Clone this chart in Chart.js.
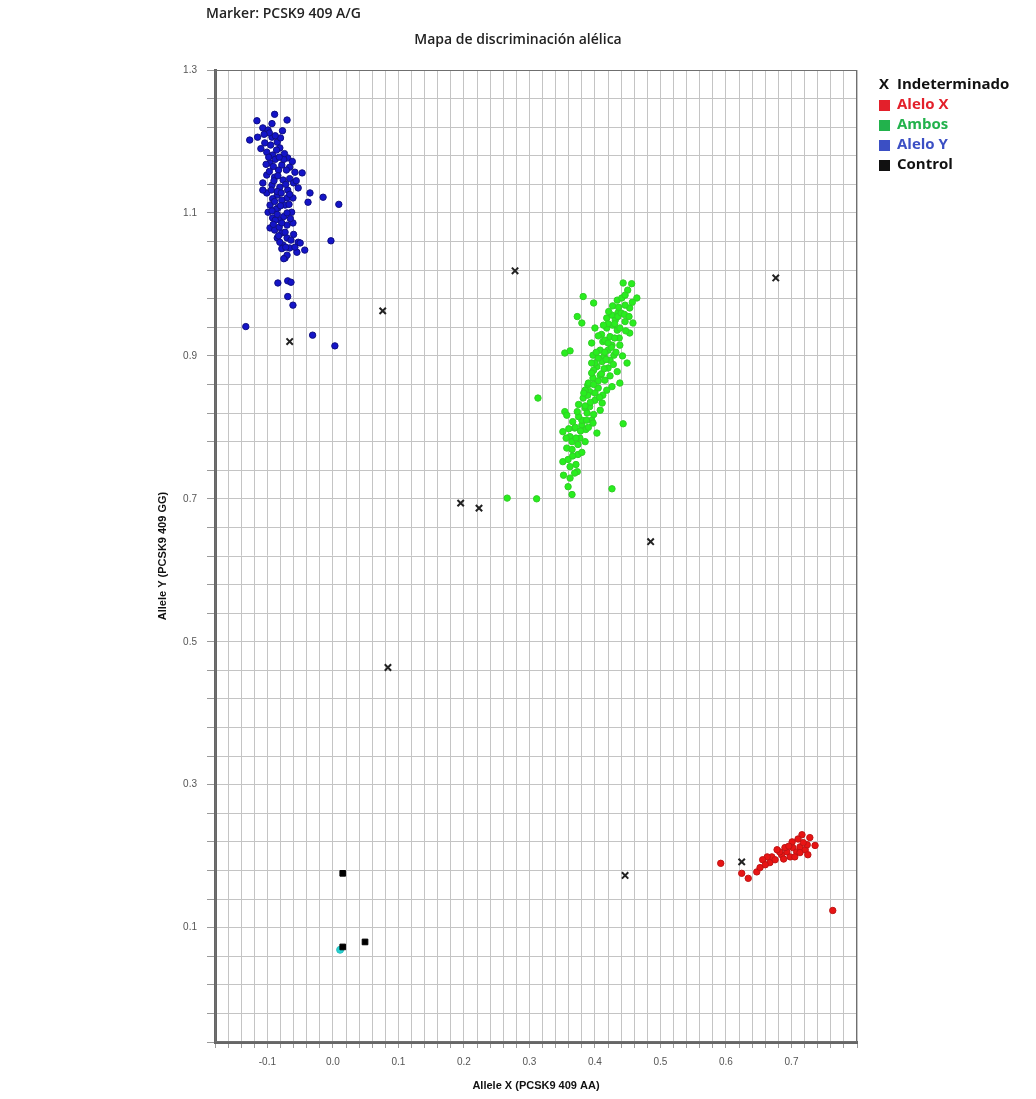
<!DOCTYPE html>
<html>
<head>
<meta charset="utf-8">
<title>Mapa de discriminación alélica</title>
<script src="https://cdn.jsdelivr.net/npm/chart.js@4.4.1/dist/chart.umd.min.js"></script>
<style>
    html, body { margin: 0; padding: 0; background: #fff; }
    #wrap { width: 1036px; height: 1099px; }
</style>
</head>
<body>
<div id="wrap"><canvas id="chart" width="1036" height="1099"></canvas></div>
<script>
// Axis ranges and labelled ticks
const xRange = [-0.18, 0.8];
const yRange = [-0.06, 1.3];
const xGridStep = 0.02;
const yGridStep = 0.04;
const xTickLabels = [-0.1, 0.0, 0.1, 0.2, 0.3, 0.4, 0.5, 0.6, 0.7];
const yTickLabels = [0.1, 0.3, 0.5, 0.7, 0.9, 1.1, 1.3];

// Legend texts
const legendLabels = ['Indeterminado', 'Alelo X', 'Ambos', 'Alelo Y', 'Control'];
const legendColors = ['#111111', '#e3202b', '#22b24c', '#3b4fc4', '#111111'];

// Points [Allele X, Allele Y]
const indeterminado = [
    [0.278, 1.019], [0.076, 0.963], [-0.066, 0.920], [0.676, 1.009], [0.195, 0.694],
    [0.223, 0.687], [0.485, 0.640], [0.084, 0.464], [0.446, 0.173], [0.624, 0.192]
];

const aleloX = [
    [0.592, 0.190], [0.624, 0.176], [0.634, 0.169], [0.647, 0.178], [0.652, 0.184],
    [0.667, 0.191], [0.670, 0.199], [0.675, 0.195], [0.685, 0.202], [0.693, 0.206],
    [0.698, 0.199], [0.702, 0.212], [0.708, 0.206], [0.713, 0.213], [0.716, 0.230],
    [0.713, 0.205], [0.721, 0.209], [0.724, 0.216], [0.725, 0.202], [0.736, 0.215],
    [0.705, 0.199], [0.690, 0.212], [0.682, 0.206], [0.663, 0.199], [0.656, 0.195],
    [0.678, 0.209], [0.701, 0.220], [0.728, 0.226], [0.718, 0.219], [0.763, 0.124],
    [0.660, 0.188], [0.688, 0.196], [0.710, 0.224], [0.696, 0.214]
];

const ambos = [
    [0.443, 1.002], [0.456, 1.001], [0.382, 0.983], [0.398, 0.974], [0.434, 0.978],
    [0.441, 0.981], [0.464, 0.981], [0.453, 0.967], [0.373, 0.955], [0.380, 0.946],
    [0.418, 0.953], [0.426, 0.957], [0.435, 0.960], [0.446, 0.948], [0.458, 0.946],
    [0.453, 0.932], [0.400, 0.939], [0.418, 0.939], [0.427, 0.943], [0.434, 0.936],
    [0.423, 0.927], [0.412, 0.920], [0.395, 0.918], [0.438, 0.915], [0.354, 0.904],
    [0.362, 0.907], [0.397, 0.901], [0.408, 0.908], [0.420, 0.908], [0.449, 0.890],
    [0.411, 0.892], [0.403, 0.885], [0.420, 0.883], [0.434, 0.878], [0.408, 0.873],
    [0.397, 0.869], [0.415, 0.866], [0.438, 0.862], [0.426, 0.857], [0.405, 0.855],
    [0.392, 0.850], [0.412, 0.845], [0.400, 0.838], [0.313, 0.841], [0.443, 0.805],
    [0.382, 0.841], [0.389, 0.845], [0.411, 0.834], [0.354, 0.822], [0.357, 0.817],
    [0.351, 0.794], [0.362, 0.787], [0.369, 0.799], [0.380, 0.803], [0.395, 0.810],
    [0.397, 0.806], [0.403, 0.792], [0.377, 0.785], [0.357, 0.771], [0.374, 0.762],
    [0.351, 0.752], [0.359, 0.755], [0.373, 0.738], [0.369, 0.736], [0.359, 0.717],
    [0.365, 0.706], [0.426, 0.714], [0.385, 0.827], [0.388, 0.820], [0.392, 0.829],
    [0.380, 0.810], [0.266, 0.701], [0.311, 0.700], [0.431, 0.950], [0.438, 0.939],
    [0.415, 0.922], [0.426, 0.915], [0.405, 0.897], [0.414, 0.900], [0.423, 0.894],
    [0.398, 0.880], [0.389, 0.859], [0.385, 0.852], [0.408, 0.824], [0.374, 0.776],
    [0.386, 0.797], [0.365, 0.769], [0.371, 0.748], [0.362, 0.729], [0.450, 0.992],
    [0.446, 0.971], [0.437, 0.925], [0.429, 0.901], [0.420, 0.945], [0.430, 0.925],
    [0.410, 0.930], [0.425, 0.912], [0.415, 0.905], [0.435, 0.955], [0.440, 0.960],
    [0.400, 0.890], [0.410, 0.875], [0.390, 0.862], [0.400, 0.848], [0.385, 0.830],
    [0.375, 0.815], [0.370, 0.800], [0.365, 0.780], [0.390, 0.800], [0.380, 0.765],
    [0.427, 0.970], [0.436, 0.968], [0.445, 0.958], [0.452, 0.955], [0.421, 0.962],
    [0.430, 0.945], [0.447, 0.935], [0.413, 0.943], [0.405, 0.928], [0.420, 0.918],
    [0.432, 0.905], [0.442, 0.900], [0.417, 0.895], [0.402, 0.905], [0.428, 0.888],
    [0.414, 0.882], [0.395, 0.890], [0.423, 0.872], [0.405, 0.865], [0.395, 0.876],
    [0.418, 0.852], [0.398, 0.860], [0.383, 0.848], [0.407, 0.842], [0.393, 0.835],
    [0.375, 0.832], [0.398, 0.818], [0.373, 0.822], [0.387, 0.810], [0.366, 0.808],
    [0.378, 0.795], [0.360, 0.798], [0.371, 0.785], [0.385, 0.780], [0.356, 0.785],
    [0.366, 0.760], [0.362, 0.745], [0.352, 0.733], [0.446, 0.985], [0.457, 0.975]
];

const aleloY = [
    [-0.089, 1.238], [-0.070, 1.230], [-0.116, 1.229], [-0.107, 1.219], [-0.099, 1.216],
    [-0.127, 1.202], [-0.115, 1.206], [-0.093, 1.206], [-0.085, 1.199], [-0.101, 1.185],
    [-0.092, 1.181], [-0.081, 1.191], [-0.069, 1.177], [-0.096, 1.170], [-0.078, 1.167],
    [-0.066, 1.164], [-0.047, 1.156], [-0.058, 1.157], [-0.101, 1.153], [-0.089, 1.150],
    [-0.076, 1.146], [-0.107, 1.142], [-0.093, 1.139], [-0.081, 1.136], [-0.069, 1.132],
    [-0.053, 1.135], [-0.035, 1.128], [-0.101, 1.128], [-0.085, 1.125], [-0.070, 1.121],
    [-0.061, 1.121], [-0.038, 1.115], [-0.096, 1.111], [-0.084, 1.107], [-0.073, 1.111],
    [-0.063, 1.101], [-0.099, 1.101], [-0.092, 1.093], [-0.081, 1.090], [-0.070, 1.083],
    [-0.061, 1.086], [-0.096, 1.079], [-0.078, 1.072], [-0.085, 1.065], [-0.070, 1.065],
    [-0.053, 1.059], [-0.076, 1.055], [-0.066, 1.051], [-0.055, 1.045], [-0.043, 1.048],
    [-0.081, 1.059], [-0.073, 1.037], [-0.089, 1.076], [-0.107, 1.132], [-0.088, 1.175],
    [-0.083, 1.160], [-0.090, 1.145], [-0.085, 1.130], [-0.078, 1.118], [-0.092, 1.120],
    [-0.087, 1.105], [-0.075, 1.095], [-0.082, 1.080], [-0.088, 1.090], [-0.072, 1.140],
    [-0.080, 1.205], [-0.095, 1.195], [-0.075, 1.175], [-0.066, 1.148], [-0.060, 1.070],
    [-0.078, 1.050], [-0.070, 1.041], [-0.015, 1.122], [0.009, 1.112], [-0.003, 1.061],
    [-0.050, 1.058], [-0.075, 1.036], [-0.084, 1.002], [-0.069, 1.005], [-0.064, 1.003],
    [-0.069, 0.983], [-0.061, 0.971], [-0.133, 0.941], [-0.031, 0.929], [0.003, 0.914],
    [-0.097, 1.212], [-0.088, 1.208], [-0.104, 1.198], [-0.086, 1.188], [-0.074, 1.183],
    [-0.098, 1.178], [-0.082, 1.178], [-0.091, 1.165], [-0.071, 1.160], [-0.097, 1.158],
    [-0.084, 1.152], [-0.060, 1.142], [-0.079, 1.128], [-0.094, 1.132], [-0.066, 1.126],
    [-0.089, 1.116], [-0.080, 1.110], [-0.067, 1.112], [-0.093, 1.103], [-0.070, 1.100],
    [-0.085, 1.098], [-0.078, 1.086], [-0.065, 1.092], [-0.091, 1.084], [-0.073, 1.073],
    [-0.083, 1.068], [-0.064, 1.062], [-0.072, 1.052], [-0.058, 1.052], [-0.102, 1.168],
    [-0.110, 1.190], [-0.105, 1.210], [-0.093, 1.225], [-0.077, 1.215], [-0.062, 1.172],
    [-0.056, 1.145]
];

const control = [[0.015, 0.176], [0.015, 0.073], [0.049, 0.080]];
const ntc = [[0.011, 0.069]];

function toPoints(arr) {
    return arr.map(p => ({ x: p[0], y: p[1] }));
}

function gridTicks(range, step) {
    const ticks = [];
    const n = Math.round((range[1] - range[0]) / step);
    for (let i = 0; i <= n; i++) {
        ticks.push({ value: +(range[0] + i * step).toFixed(3) });
    }
    return ticks;
}

function labelFor(list) {
    return function(value) {
        return list.some(v => Math.abs(v - value) < 1e-6) ? Number(value).toFixed(1) : '';
    };
}

// titles, frame and legend
const decorPlugin = {
    id: 'decor',
    afterDatasetsDraw(chart) {
        const { ctx, chartArea: a } = chart;
        ctx.save();
        ctx.strokeStyle = '#6f6f6f';
        ctx.lineWidth = 1;
        ctx.strokeRect(a.left + 0.5, a.top + 0.5, a.right - a.left - 1, a.bottom - a.top - 1);
        ctx.restore();
    },
    afterDraw(chart) {
        const ctx = chart.ctx;
        ctx.save();
        ctx.textBaseline = 'middle';
        ctx.fillStyle = '#222';
        ctx.font = '600 14px "Open Sans"';
        ctx.textAlign = 'left';
        ctx.fillText('Marker: PCSK9 409 A/G', 206, 14);
        ctx.textAlign = 'center';
        ctx.fillText('Mapa de discriminación alélica', 518, 40);

        ctx.textAlign = 'left';
        ctx.font = 'bold 15px "Open Sans"';
        legendLabels.forEach((txt, i) => {
            const y = 85 + i * 20;
            if (i === 0) {
                ctx.fillStyle = '#111';
                ctx.fillText('X', 879, y);
            } else {
                ctx.fillStyle = legendColors[i];
                ctx.fillRect(879, y - 5, 11, 11);
            }
            ctx.fillStyle = legendColors[i];
            ctx.fillText(txt, 897, y);
        });
        ctx.restore();
    }
};

const ctx = document.getElementById('chart').getContext('2d');
new Chart(ctx, {
    type: 'scatter',
    data: {
        datasets: [
            {
                label: 'Indeterminado',
                data: toPoints(indeterminado),
                pointStyle: 'crossRot',
                pointRadius: 4.5,
                borderColor: '#222',
                borderWidth: 2
            },
            {
                label: 'Alelo X',
                data: toPoints(aleloX),
                pointStyle: 'circle',
                pointRadius: 3.2,
                backgroundColor: 'rgb(232, 20, 20)',
                borderColor: 'rgb(190, 20, 20)',
                borderWidth: 1
            },
            {
                label: 'Ambos',
                data: toPoints(ambos),
                pointStyle: 'circle',
                pointRadius: 3.2,
                backgroundColor: 'rgb(40, 238, 30)',
                borderColor: 'rgb(50, 205, 40)',
                borderWidth: 1
            },
            {
                label: 'Alelo Y',
                data: toPoints(aleloY),
                pointStyle: 'circle',
                pointRadius: 3.2,
                backgroundColor: 'rgb(20, 20, 200)',
                borderColor: 'rgb(15, 15, 130)',
                borderWidth: 1
            },
            {
                label: 'Control',
                data: toPoints(control),
                pointStyle: 'rect',
                pointRadius: 4,
                backgroundColor: '#000',
                borderColor: '#000',
                borderWidth: 1
            },
            {
                label: 'NTC',
                data: toPoints(ntc),
                pointStyle: 'circle',
                pointRadius: 3.5,
                backgroundColor: 'rgb(40, 210, 210)',
                borderColor: 'rgb(40, 190, 190)',
                borderWidth: 1
            }
        ]
    },
    options: {
        responsive: false,
        animation: false,
        layout: { padding: { left: 150, right: 179, top: 70, bottom: 0 } },
        plugins: {
            legend: { display: false },
            tooltip: { enabled: false }
        },
        scales: {
            x: {
                type: 'linear',
                min: xRange[0],
                max: xRange[1],
                afterBuildTicks: scale => { scale.ticks = gridTicks(xRange, xGridStep); },
                afterFit: scale => { scale.height = 57; },
                grid: { color: '#c4c4c4', tickColor: '#9a9a9a', tickLength: 6 },
                border: { color: '#666', width: 3 },
                ticks: {
                    autoSkip: false,
                    maxRotation: 0,
                    padding: 8,
                    color: '#555',
                    font: { family: '"Liberation Sans", Arial', size: 10 },
                    callback: labelFor(xTickLabels)
                },
                title: {
                    display: true,
                    text: 'Allele X (PCSK9 409 AA)',
                    color: '#111',
                    font: { family: '"Liberation Sans", Arial', size: 11, weight: 'bold' },
                    padding: { top: 4, bottom: 6 }
                }
            },
            y: {
                type: 'linear',
                min: yRange[0],
                max: yRange[1],
                afterBuildTicks: scale => { scale.ticks = gridTicks(yRange, yGridStep); },
                afterFit: scale => { scale.width = 65; },
                grid: { color: '#c4c4c4', tickColor: '#9a9a9a', tickLength: 8 },
                border: { color: '#666', width: 3 },
                ticks: {
                    autoSkip: false,
                    padding: 10,
                    color: '#555',
                    font: { family: '"Liberation Sans", Arial', size: 10 },
                    callback: labelFor(yTickLabels)
                },
                title: {
                    display: true,
                    text: 'Allele Y (PCSK9 409 GG)',
                    color: '#111',
                    font: { family: '"Liberation Sans", Arial', size: 11, weight: 'bold' },
                    padding: { top: 6, bottom: 0 }
                }
            }
        }
    },
    plugins: [decorPlugin]
});
</script>
</body>
</html>
